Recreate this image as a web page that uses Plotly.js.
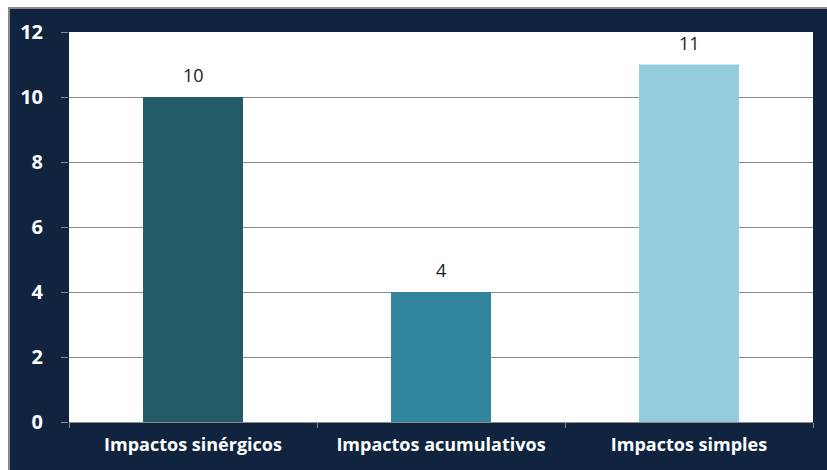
<!DOCTYPE html>
<html>
<head>
<meta charset="utf-8">
<script src="https://cdn.plot.ly/plotly-3.0.1.min.js"></script>
<style>
html,body{margin:0;padding:0;background:#ffffff;width:827px;height:470px;overflow:hidden;}
#wrap{position:absolute;left:8px;top:7px;width:819px;height:463px;border-top:2px solid #8a8a8a;border-left:2px solid #8a8a8a;box-sizing:border-box;background:#10243f;}
#chart{position:absolute;left:0;top:0;width:817px;height:461px;}
</style>
</head>
<body>
<div id="wrap"><div id="chart"></div></div>
<script>
const categories = ["Impactos sinérgicos", "Impactos acumulativos", "Impactos simples"];
const values = [10, 4, 11];
const barColors = ["#235a68", "#31859c", "#93cddd"];
const yTicks = [0, 2, 4, 6, 8, 10, 12];

const trace = {
  type: "bar",
  x: categories,
  y: values,
  marker: {color: barColors, line: {width: 0}},
  hoverinfo: "none"
};

const annotations = categories.map((c, i) => ({
  x: c,
  y: values[i],
  xref: "x",
  yref: "y",
  text: String(values[i]),
  showarrow: false,
  yanchor: "bottom",
  yshift: 8,
  font: {family: "Open Sans", size: 18, color: "#1a1a1a"}
}));

const layout = {
  width: 817,
  height: 461,
  margin: {l: 59, r: 14, t: 23, b: 48},
  paper_bgcolor: "#10243f",
  plot_bgcolor: "#ffffff",
  bargap: 0.597,
  showlegend: false,
  font: {family: "Open Sans"},
  annotations: annotations,
  xaxis: {
    type: "category",
    tickson: "boundaries",
    ticks: "outside",
    ticklen: 5,
    tickcolor: "#8a8a8a",
    showline: true,
    linecolor: "#8a8a8a",
    linewidth: 1,
    showgrid: false,
    ticklabelstandoff: 6,
    tickfont: {family: "Open Sans", size: 18, color: "#ffffff", weight: "bold"},
    fixedrange: true
  },
  yaxis: {
    range: [0, 12],
    tickvals: yTicks,
    ticktext: yTicks.map(String),
    ticks: "outside",
    ticklen: 7,
    tickcolor: "#8a8a8a",
    showgrid: true,
    gridcolor: "#8a8a8a",
    gridwidth: 1,
    zeroline: true,
    zerolinecolor: "#8a8a8a",
    showline: false,
    ticklabelstandoff: 14,
    tickfont: {family: "Open Sans", size: 20, color: "#ffffff", weight: "bold"},
    fixedrange: true
  }
};

Plotly.newPlot("chart", [trace], layout, {staticPlot: true, displayModeBar: false});
</script>
</body>
</html>
